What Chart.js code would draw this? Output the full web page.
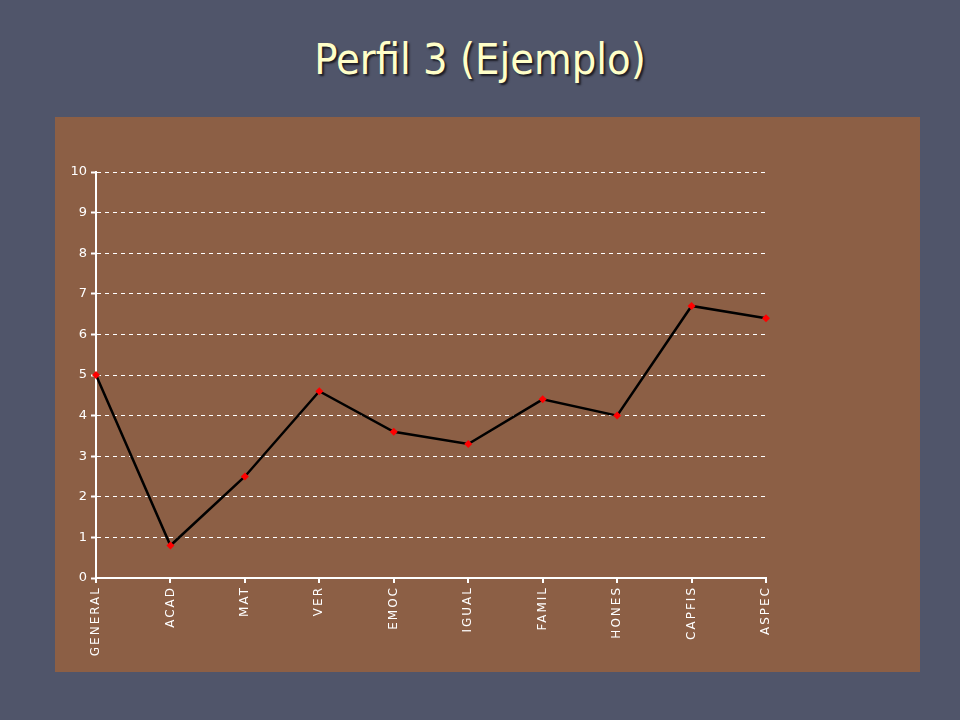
<!DOCTYPE html>
<html>
<head>
<meta charset="utf-8">
<script src="https://cdn.jsdelivr.net/npm/chart.js@4"></script>
<style>
    body { margin: 0; width: 960px; height: 720px; background: #50556a; overflow: hidden; position: relative; }
    #titulo {
        position: absolute; left: 0; top: 34px; width: 960px; text-align: center; line-height: 50px;
        font-family: "DejaVu Sans Condensed", "DejaVu Sans", sans-serif; font-size: 43px; color: #ffffc8;
        text-shadow: 2px 2px 2px #1c1c24;
    }
    #panel { position: absolute; left: 55px; top: 117px; width: 865px; height: 555px; background: #8c5f45; }
</style>
</head>
<body>
<div id="titulo">Perfil 3 (Ejemplo)</div>
<div id="panel"><canvas id="g_perfil" width="865" height="555"></canvas></div>
<script>
//Les données du graphique
const categorias = ['GENERAL', 'ACAD', 'MAT', 'VER', 'EMOC', 'IGUAL', 'FAMIL', 'HONES', 'CAPFIS', 'ASPEC'];
const valores = [5, 0.8, 2.5, 4.6, 3.6, 3.3, 4.4, 4.0, 6.7, 6.4];
const ticksY = [0, 1, 2, 3, 4, 5, 6, 7, 8, 9, 10];

//Espacement des lettres seulement pour les étiquettes x (dessinées après les données)
const espacement = {
    id: 'espacement',
    beforeDraw(chart) { chart.ctx.letterSpacing = '0px'; },
    afterDatasetsDraw(chart) { chart.ctx.letterSpacing = '2px'; },
    afterDraw(chart) { chart.ctx.letterSpacing = '0px'; }
}

function dibujar() {
    const context = document.getElementById('g_perfil').getContext('2d');

    let conData = {
        labels: categorias,
        datasets: [{
            data: valores,
            fill: false,
            borderColor: '#000000',
            borderWidth: 2.5,
            tension: 0,
            pointStyle: 'rectRot',
            pointRadius: 4,
            pointBackgroundColor: '#ff0000',
            pointBorderColor: '#ff0000',
            pointBorderWidth: 0
        }]
    }

    let options = {
        responsive: false,
        animation: false,
        layout: { padding: { left: 0, right: 154, top: 55, bottom: 0 } },
        plugins: {
            legend: { display: false },
            tooltip: { enabled: false }
        },
        scales: {
            x: {
                offset: false,
                grid: { display: true, drawOnChartArea: false, drawTicks: true, tickLength: 5, color: '#ffffff', lineWidth: 2 },
                border: { display: true, color: '#ffffff', width: 2 },
                ticks: {
                    z: 1,
                    color: '#ffffff', autoSkip: false, maxRotation: 90, minRotation: 90, padding: 3,
                    font: { family: '"DejaVu Sans", sans-serif', size: 12 }
                },
                afterFit: (scale) => { scale.height = 94; }
            },
            y: {
                min: 0,
                max: 10,
                afterBuildTicks: (scale) => { scale.ticks = ticksY.map(v => ({ value: v })); },
                grid: { color: '#ffffff', lineWidth: 1, drawTicks: true, tickLength: 5, tickBorderDash: [], tickColor: '#ffffff', tickWidth: 2 },
                //pointillés sur les lignes de la grille
                border: { display: true, color: '#ffffff', width: 2, dash: [4, 4] },
                ticks: {
                    color: '#ffffff', padding: 4,
                    font: { family: '"DejaVu Sans", sans-serif', size: 13 }
                },
                afterFit: (scale) => { scale.width = 41; }
            }
        }
    }

    let config = { type: 'line', data: conData, options: options, plugins: [espacement] }
    let g = new Chart(context, config);
}

window.addEventListener('load', () => { dibujar(); })
</script>
</body>
</html>
